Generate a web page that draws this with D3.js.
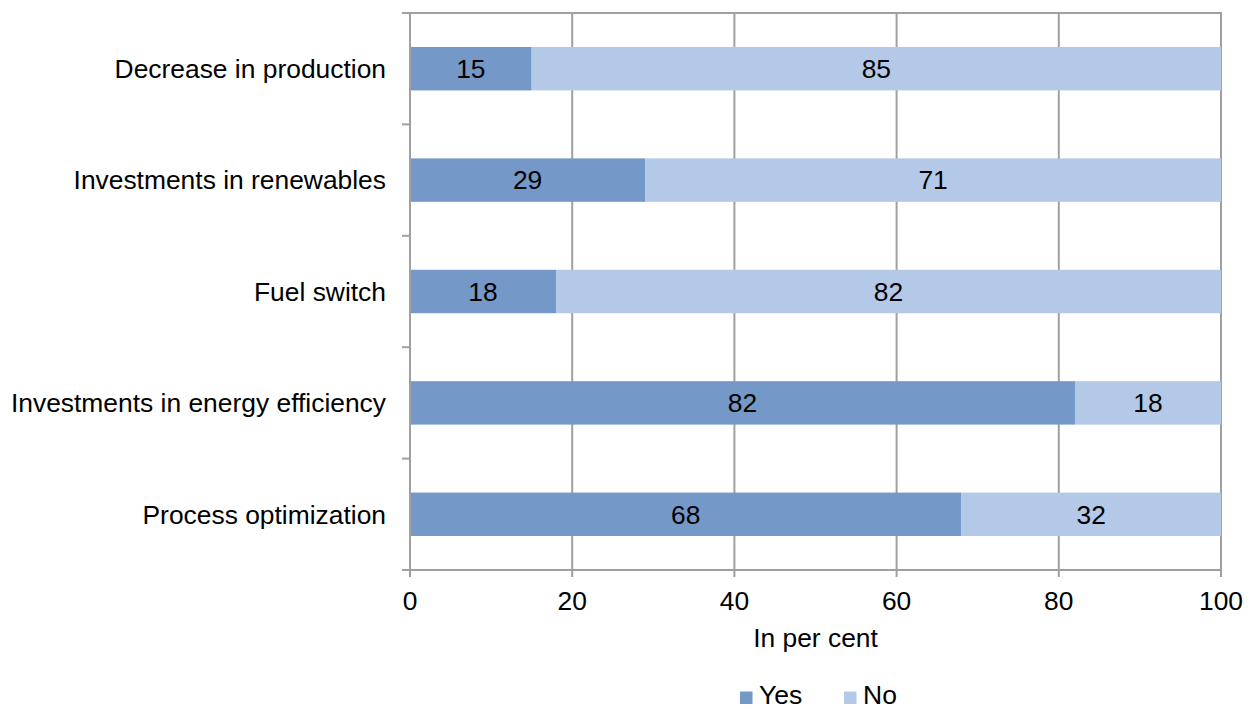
<!DOCTYPE html>
<html><head><meta charset="utf-8">
<script src="https://cdn.jsdelivr.net/npm/d3@7/dist/d3.min.js"></script>
<style>body{margin:0;background:#fff}svg{display:block}text{font-family:"Liberation Sans",Arial,sans-serif;fill:#000}</style>
</head><body><svg id="c" width="1257" height="709"></svg>
<script>
const categories = ["Decrease in production","Investments in renewables","Fuel switch","Investments in energy efficiency","Process optimization"];
const yesValues = [15,29,18,82,68];
const noValues = [85,71,82,18,32];
const seriesNames = ["Yes","No"];
const seriesColors = ["#7498c8","#b3c9e7"];
const xTicks = [0,20,40,60,80,100];
const xTitle = "In per cent";

const svg = d3.select("#c");
const L = 410, R = 1221, T = 13, B = 570;
const FS = 26.4;
const x = d3.scaleLinear().domain([0,100]).range([L,R]);
const y = d3.scaleBand().domain(categories).range([T,B]).paddingInner(0.61).paddingOuter(0.305);
const gridColor = "#a0a0a0";

svg.append("g").selectAll("line").data(xTicks).join("line")
  .attr("x1",d=>x(d)).attr("x2",d=>x(d)).attr("y1",T).attr("y2",B+7)
  .attr("stroke",gridColor).attr("stroke-width",2);
svg.append("line").attr("x1",L-8).attr("x2",R+1).attr("y1",T).attr("y2",T).attr("stroke",gridColor).attr("stroke-width",2);
svg.append("line").attr("x1",L-8).attr("x2",R+1).attr("y1",B).attr("y2",B).attr("stroke",gridColor).attr("stroke-width",2);
const step = y.step();
const bounds = d3.range(categories.length+1).map(i=>T+i*step);
svg.append("g").selectAll("line").data(bounds).join("line")
  .attr("x1",L-8).attr("x2",L).attr("y1",d=>d).attr("y2",d=>d)
  .attr("stroke",gridColor).attr("stroke-width",2);

const rows = categories.map((c,i)=>({cat:c,Yes:yesValues[i],No:noValues[i]}));
const stack = d3.stack().keys(seriesNames)(rows);
stack.forEach((s,si)=>{
  const g = svg.append("g");
  g.selectAll("rect").data(s).join("rect")
    .attr("x",d=>x(d[0])).attr("width",d=>x(d[1])-x(d[0]))
    .attr("y",d=>y(d.data.cat)).attr("height",y.bandwidth())
    .attr("fill",seriesColors[si]);
  g.selectAll("text").data(s).join("text")
    .attr("x",d=>(x(d[0])+x(d[1]))/2).attr("y",d=>y(d.data.cat)+y.bandwidth()/2)
    .attr("dy","0.35em").attr("text-anchor","middle").attr("font-size",FS)
    .text(d=>d[1]-d[0]);
});
svg.append("line").attr("x1",L).attr("x2",L).attr("y1",T).attr("y2",B+7).attr("stroke",gridColor).attr("stroke-width",2);

svg.append("g").selectAll("text").data(categories).join("text")
  .attr("x",386).attr("y",d=>y(d)+y.bandwidth()/2).attr("dy","0.35em")
  .attr("text-anchor","end").attr("font-size",FS).text(d=>d);

svg.append("g").selectAll("text").data(xTicks).join("text")
  .attr("x",d=>x(d)).attr("y",610).attr("text-anchor","middle").attr("font-size",FS).text(d=>d);
svg.append("text").attr("x",x(50)).attr("y",647).attr("text-anchor","middle").attr("font-size",FS).text(xTitle);

const legX = [740,844];
seriesNames.forEach((n,i)=>{
  svg.append("rect").attr("x",legX[i]).attr("y",691.5).attr("width",12.5).attr("height",12.5).attr("fill",seriesColors[i]);
  svg.append("text").attr("x",legX[i]+19).attr("y",704).attr("font-size",26.5).text(n);
});
</script></body></html>
